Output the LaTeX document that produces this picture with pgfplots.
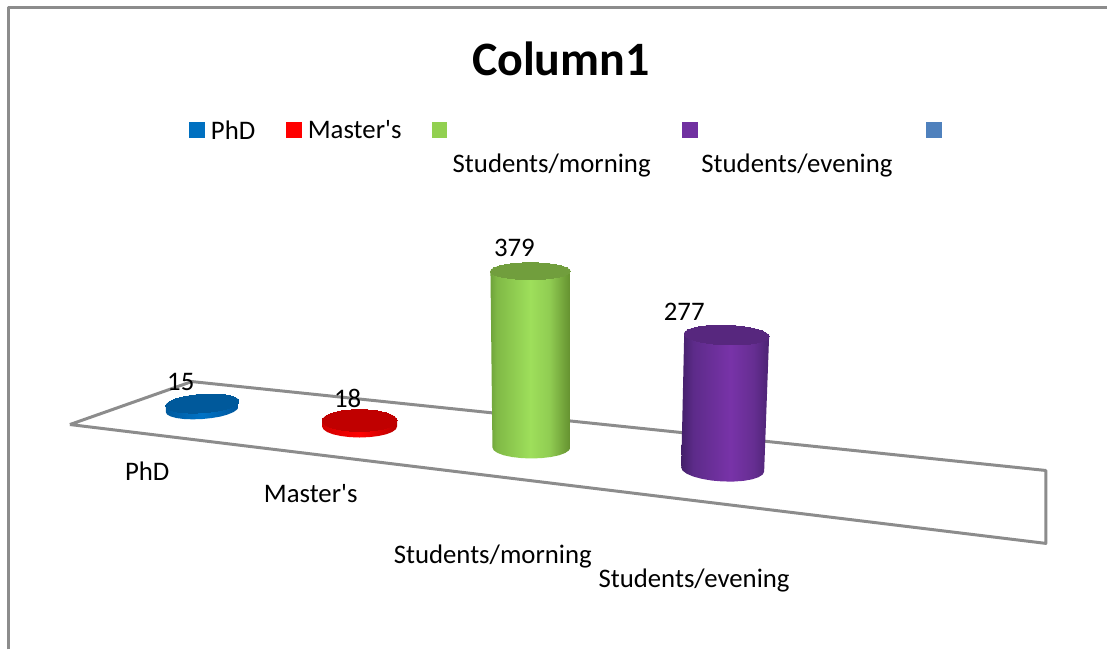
\documentclass[border=0pt]{standalone}
\usepackage{fontspec}
\setmainfont{Carlito}
\usepackage{pgfplots}
\pgfplotsset{compat=1.18}
\tikzset{lab/.style={font=\fontsize{26.8}{30}\selectfont, inner sep=0pt, anchor=west}}
\definecolor{frame}{HTML}{8C8C8C}
\definecolor{gtop}{HTML}{719E3D}
\definecolor{ptop}{HTML}{57277E}
\definecolor{btop}{HTML}{00599B}
\definecolor{rtop}{HTML}{C00000}
\definecolor{ga}{HTML}{6FA33A}\definecolor{gb}{HTML}{80B946}\definecolor{gc}{HTML}{9EDF5B}\definecolor{gd}{HTML}{90CC52}\definecolor{ge}{HTML}{64902F}
\definecolor{pa}{HTML}{43206A}\definecolor{pb}{HTML}{5D2B8A}\definecolor{pc}{HTML}{7833A8}\definecolor{pd}{HTML}{662E92}\definecolor{pe}{HTML}{4C2473}
\definecolor{ba}{HTML}{005A9E}\definecolor{bc}{HTML}{0073C6}\definecolor{be}{HTML}{00559A}
\definecolor{ra}{HTML}{D00000}\definecolor{rc}{HTML}{FF0000}\definecolor{re}{HTML}{B80000}
\definecolor{s1}{HTML}{0070C0}\definecolor{s2}{HTML}{FF0000}\definecolor{s3}{HTML}{92D050}\definecolor{s4}{HTML}{7030A0}\definecolor{s5}{HTML}{4F81BD}
\pgfdeclarehorizontalshading{gbody}{100bp}{color(0bp)=(ga);color(25bp)=(ga);color(29bp)=(gb);color(50bp)=(gc);color(62bp)=(gd);color(75bp)=(ge);color(100bp)=(ge)}
\pgfdeclarehorizontalshading{pbody}{100bp}{color(0bp)=(pa);color(25bp)=(pa);color(32bp)=(pb);color(53bp)=(pc);color(66bp)=(pd);color(75bp)=(pe);color(100bp)=(pe)}
\pgfdeclarehorizontalshading{bbody}{100bp}{color(0bp)=(ba);color(25bp)=(ba);color(50bp)=(bc);color(75bp)=(be);color(100bp)=(be)}
\pgfdeclarehorizontalshading{rbody}{100bp}{color(0bp)=(ra);color(25bp)=(ra);color(50bp)=(rc);color(75bp)=(re);color(100bp)=(re)}
\begin{document}
\begin{tikzpicture}
\begin{axis}[
  scale only axis, width=1108pt, height=650pt,
  xmin=0, xmax=1108, ymin=0, ymax=650, y dir=reverse,
  hide axis, clip=false,
  every axis plot/.append style={line join=round},
]
\path (axis cs:0,0) rectangle (axis cs:1108,650);
% chart area border
\addplot[frame, line width=2.5pt, mark=none] coordinates {(8.5,650) (8.5,7.5) (1108,7.5)};
% floor
\addplot[frame, line width=3pt, mark=none] coordinates {(70,425) (192,382) (1047,471) (1047,544) (70,425)};
% PhD
\addplot[draw=none, shade, shading=bbody, mark=none] coordinates {(166,406.5) (239,401.5) (239,407.5) (237.3,410) (233.6,412.6) (227.8,415) (220.8,417) (212,418.5) (202.5,419.5) (193,419.8) (184.3,419.5) (176.7,418.5) (170.9,416.9) (167.2,414.9) (166,412.5) (166,406.5)};
\addplot[only marks, mark=*, mark size=36.8pt, mark options={draw=btop, fill=btop, line width=0pt, rotate=4, yscale=0.25}] coordinates {(202.5,404)};
% Master's
\addplot[draw=none, shade, shading=rbody, mark=none] coordinates {(322.5,421) (397.5,421) (397.5,427) (396.2,429.8) (392.5,432.5) (386.5,434.8) (378.8,436.5) (369.7,437.6) (360,438) (350.3,437.6) (341.3,436.5) (333.5,434.8) (327.5,432.5) (323.8,429.8) (322.5,427) (322.5,421)};
\addplot[only marks, mark=*, mark size=37.5pt, mark options={draw=rtop, fill=rtop, line width=0pt, yscale=0.29}] coordinates {(360,421)};
% Students/morning
\addplot[draw=none, shade, shading=gbody, mark=none] coordinates {(491,272) (571,272) (571,448) (569.7,450.8) (565.8,453.5) (559.6,455.8) (551.5,457.5) (542.1,458.6) (532,459) (521.9,458.6) (512.5,457.5) (504.4,455.8) (498.2,453.5) (494.3,450.8) (493,448) (491,272)};
\addplot[only marks, mark=*, mark size=40pt, mark options={draw=gtop, fill=gtop, line width=0pt, yscale=0.21}] coordinates {(531,271.5)};
% Students/evening
\addplot[draw=none, shade, shading=pbody, mark=none] coordinates {(685,333) (770,336) (765,472) (763.6,475) (759.4,477.7) (752.8,479.9) (744.3,481.4) (734.2,482.1) (723.5,482) (712.8,481.1) (702.8,479.4) (694.2,477.1) (687.6,474.3) (683.4,471.2) (682,468) (685,333)};
\addplot[only marks, mark=*, mark size=42.5pt, mark options={draw=ptop, fill=ptop, line width=0pt, rotate=-2, yscale=0.23}] coordinates {(727.5,335.5)};
% value labels
\addplot[only marks, mark=none, point meta=explicit symbolic, nodes near coords,
  every node near coord/.append style={anchor=center, inner sep=0pt, font=\fontsize{26.8}{30}\selectfont, text=black}]
  coordinates {(181,382)[15] (348,399)[18] (515,248)[379] (685,312)[277]};
% legend swatches
\addplot[only marks, mark=square*, mark size=7.5pt, color=s1, mark options={line width=0pt}] coordinates {(197.5,130.5)};
\addplot[only marks, mark=square*, mark size=7.5pt, color=s2, mark options={line width=0pt}] coordinates {(294,130.5)};
\addplot[only marks, mark=square*, mark size=7.5pt, color=s3, mark options={line width=0pt}] coordinates {(440,130.5)};
\addplot[only marks, mark=square*, mark size=7.5pt, color=s4, mark options={line width=0pt}] coordinates {(691,130.5)};
\addplot[only marks, mark=square*, mark size=7.5pt, color=s5, mark options={line width=0pt}] coordinates {(935.5,130.5)};
% texts
\node[font=\bfseries\fontsize{48}{54}\selectfont, inner sep=0pt] at (axis cs:561.5,59) {Column1};
\node[lab] at (axis cs:211,130) {PhD};
\node[lab] at (axis cs:308,130) {Master\textquotesingle s};
\node[lab] at (axis cs:453,165.5) {Students/morning};
\node[lab] at (axis cs:702,165.5) {Students/evening};
\node[lab] at (axis cs:125,472) {PhD};
\node[lab] at (axis cs:264,494) {Master\textquotesingle s};
\node[lab] at (axis cs:394,557.5) {Students/morning};
\node[lab] at (axis cs:599,581.5) {Students/evening};
\end{axis}
\end{tikzpicture}
\end{document}
